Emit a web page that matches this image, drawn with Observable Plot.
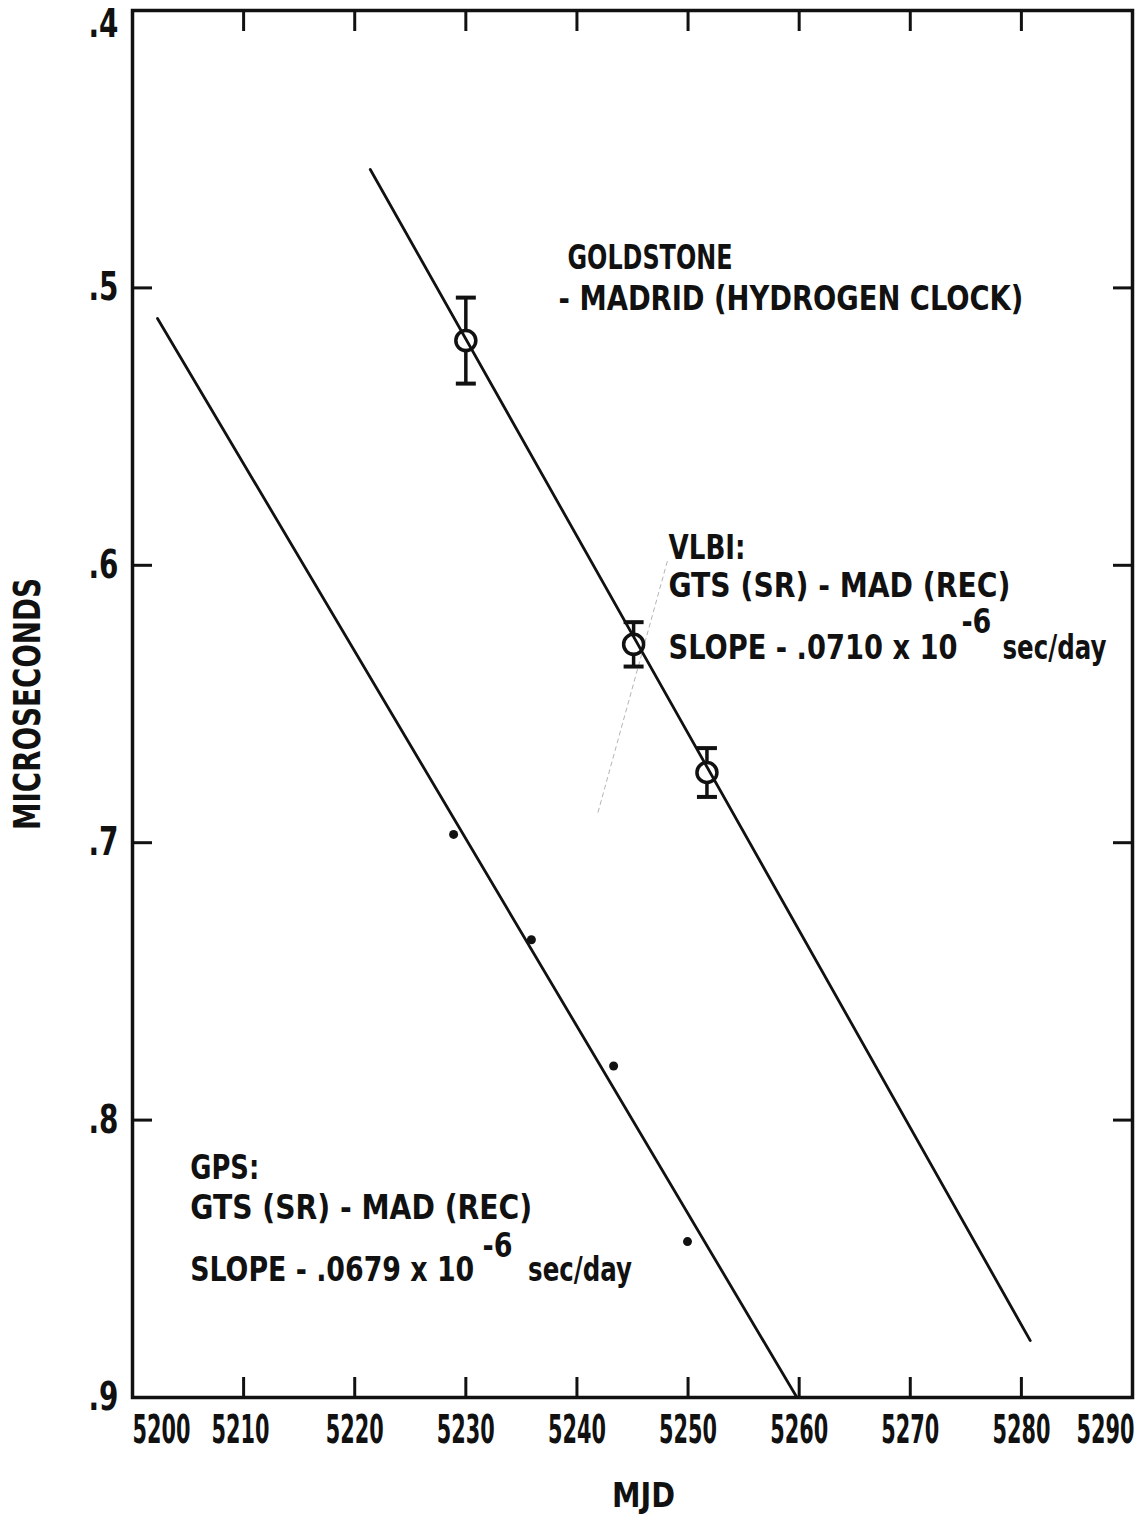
<!DOCTYPE html>
<html>
<head>
<meta charset="utf-8">
<script src="https://cdn.jsdelivr.net/npm/d3@7"></script>
<script src="https://cdn.jsdelivr.net/npm/@observablehq/plot@0.6"></script>
<style>
  html, body { margin: 0; padding: 0; background: #fff; }
  #chart svg { display: block; }
</style>
</head>
<body>
<div id="chart"></div>
<script>
// ---- axis ticks ----
const xTicks = [5200, 5210, 5220, 5230, 5240, 5250, 5260, 5270, 5280, 5290];
const yTicks = [0.4, 0.5, 0.6, 0.7, 0.8, 0.9];
const yTickLabels = [".4", ".5", ".6", ".7", ".8", ".9"];

// ---- VLBI: Goldstone - Madrid (hydrogen clock), open circles with error bars ----
const vlbiMjd = [5230.0, 5245.1, 5251.7];
const vlbiValue = [0.519, 0.6285, 0.6747];
const vlbiErr = [0.0155, 0.008, 0.0088];
// VLBI fitted line (slope -.0710e-6 s/day), endpoints as drawn
const vlbiFitMjd = [5221.4, 5280.8];
const vlbiFitValue = [0.4573, 0.8795];

// ---- GPS: filled dots ----
const gpsMjd = [5228.9, 5235.9, 5243.3, 5249.95];
const gpsValue = [0.697, 0.735, 0.7805, 0.8438];
// GPS fitted line (slope -.0679e-6 s/day), endpoints as drawn
const gpsFitMjd = [5202.25, 5259.8];
const gpsFitValue = [0.511, 0.9];

// faint pencil stroke on the scan
const pencilMjd = [5241.9, 5248.2];
const pencilValue = [0.689, 0.5976];

// ---- annotations ----
const noteText = ["GOLDSTONE", "- MADRID (HYDROGEN CLOCK)",
  "VLBI:", "GTS (SR) - MAD (REC)", "SLOPE - .0710 x 10", "-6", "sec/day",
  "GPS:", "GTS (SR) - MAD (REC)", "SLOPE - .0679 x 10", "-6", "sec/day"];
const noteMjd = [5239.15, 5238.35,
  5248.24, 5248.24, 5248.24, 5274.6, 5278.3,
  5205.2, 5205.2, 5205.2, 5231.5, 5235.6];
const noteValue = [0.4894, 0.5042,
  0.5939, 0.6076, 0.6300, 0.6205, 0.6300,
  0.8175, 0.8319, 0.8542, 0.8455, 0.8542];
const noteWidth = [165, 465, 77, 345, 289, 30, 101, 69, 340, 284, 30, 107];

// ---- build tables ----
const vlbi = vlbiMjd.map((m, i) => ({mjd: m, value: vlbiValue[i], lo: vlbiValue[i] - vlbiErr[i], hi: vlbiValue[i] + vlbiErr[i]}));
const vlbiCaps = vlbi.flatMap(d => [{mjd: d.mjd, value: d.lo}, {mjd: d.mjd, value: d.hi}]);
const vlbiFit = vlbiFitMjd.map((m, i) => ({mjd: m, value: vlbiFitValue[i]}));
const gps = gpsMjd.map((m, i) => ({mjd: m, value: gpsValue[i]}));
const gpsFit = gpsFitMjd.map((m, i) => ({mjd: m, value: gpsFitValue[i]}));
const pencil = pencilMjd.map((m, i) => ({mjd: m, value: pencilValue[i]}));
const notes = noteText.map((t, i) => ({text: t, mjd: noteMjd[i], value: noteValue[i], w: noteWidth[i]}));

const capSymbol = {
  draw(ctx, size) {
    const h = Math.sqrt(size / Math.PI);
    ctx.moveTo(-h, 0);
    ctx.lineTo(h, 0);
  }
};

const INK = "#111";
const FONT = "'DejaVu Sans Condensed', 'DejaVu Sans', sans-serif";

const svg = Plot.plot({
  width: 1147,
  height: 1515,
  marginLeft: 132,
  marginRight: 15,
  marginTop: 10,
  marginBottom: 118,
  style: {fontFamily: FONT, fontWeight: "bold", fontSize: "33px", color: INK, background: "#fff"},
  x: {domain: [5200, 5290], label: null},
  y: {domain: [0.4, 0.9], reverse: true, label: null},
  marks: [
    Plot.line(pencil, {x: "mjd", y: "value", stroke: "#b5b5b5", strokeWidth: 1, strokeDasharray: "4,4"}),
    Plot.frame({stroke: INK, strokeWidth: 3.5}),
    Plot.axisX(xTicks, {anchor: "bottom", tickSize: -20, tickPadding: 38, strokeWidth: 3,
      fontSize: 39, label: null, tickFormat: d => String(d)}),
    Plot.axisX(xTicks, {anchor: "top", tickSize: -20, strokeWidth: 3, fill: "none", label: null}),
    Plot.axisY(yTicks, {anchor: "left", tickSize: -20, tickPadding: 34, strokeWidth: 3,
      fontSize: 39, label: null, tickFormat: d => yTickLabels[yTicks.indexOf(d)]}),
    Plot.axisY(yTicks, {anchor: "right", tickSize: -20, strokeWidth: 3, fill: "none", label: null}),
    // error bars
    Plot.ruleX(vlbi, {x: "mjd", y1: "lo", y2: "hi", stroke: INK, strokeWidth: 3.5}),
    Plot.dot(vlbiCaps, {x: "mjd", y: "value", symbol: capSymbol, r: 10, fill: "none", stroke: INK, strokeWidth: 4}),
    Plot.dot(vlbi, {x: "mjd", y: "value", r: 10, fill: "#fff", stroke: INK, strokeWidth: 3.5}),
    // fitted lines
    Plot.line(vlbiFit, {x: "mjd", y: "value", stroke: INK, strokeWidth: 2.8}),
    Plot.line(gpsFit, {x: "mjd", y: "value", stroke: INK, strokeWidth: 2.8}),
    // GPS points
    Plot.dot(gps, {x: "mjd", y: "value", r: 4.5, fill: INK, stroke: "none"}),
    // annotations
    Plot.text(notes, {x: "mjd", y: "value", text: "text", textAnchor: "start", lineAnchor: "middle", fill: INK, fontSize: 33}),
    // axis titles
    Plot.text(["MICROSECONDS"], {frameAnchor: "left", dx: -104, dy: 126, rotate: -90, textAnchor: "start", lineAnchor: "middle", fontSize: 37, fill: INK}),
    Plot.text(["MJD"], {frameAnchor: "bottom", dx: 11, dy: 99, lineAnchor: "middle", fontSize: 33, fill: INK})
  ]
});

document.getElementById("chart").append(svg);

// condense the lettering to match the narrow typeface of the original:
// shrink the font so its natural width fits, then stretch it back vertically
const widthOf = {};
notes.forEach(n => { if (!(n.text in widthOf)) widthOf[n.text] = n.w; });
widthOf["sec/day"] = 104;
widthOf["GTS (SR) - MAD (REC)"] = 342;
xTicks.forEach(t => widthOf[String(t)] = 58);
yTickLabels.forEach(t => widthOf[t] = 30);
widthOf["MICROSECONDS"] = 252;
widthOf["MJD"] = 63;
const shiftX = {"5200": 29, "5210": -3, "5290": -27};

d3.select(svg).selectAll("text").each(function() {
  const t = this.textContent;
  const w = widthOf[t];
  let sy = 1;
  if (w) {
    const fs = parseFloat(getComputedStyle(this).fontSize);
    const nat = this.getComputedTextLength();
    const tr = this.getAttribute("transform");
    if (nat > 0 && tr) {
      const nfs = fs * w / nat;
      sy = fs / nfs;
      this.style.fontSize = nfs + "px";
      this.setAttribute("transform", tr + ` scale(1,${sy})`);
    } else {
      this.setAttribute("textLength", w);
      this.setAttribute("lengthAdjust", "spacingAndGlyphs");
    }
  }
  if (shiftX[t] !== undefined) this.setAttribute("dx", shiftX[t]);
  if (t === ".4") this.setAttribute("dy", 14 / sy);
});
</script>
</body>
</html>
